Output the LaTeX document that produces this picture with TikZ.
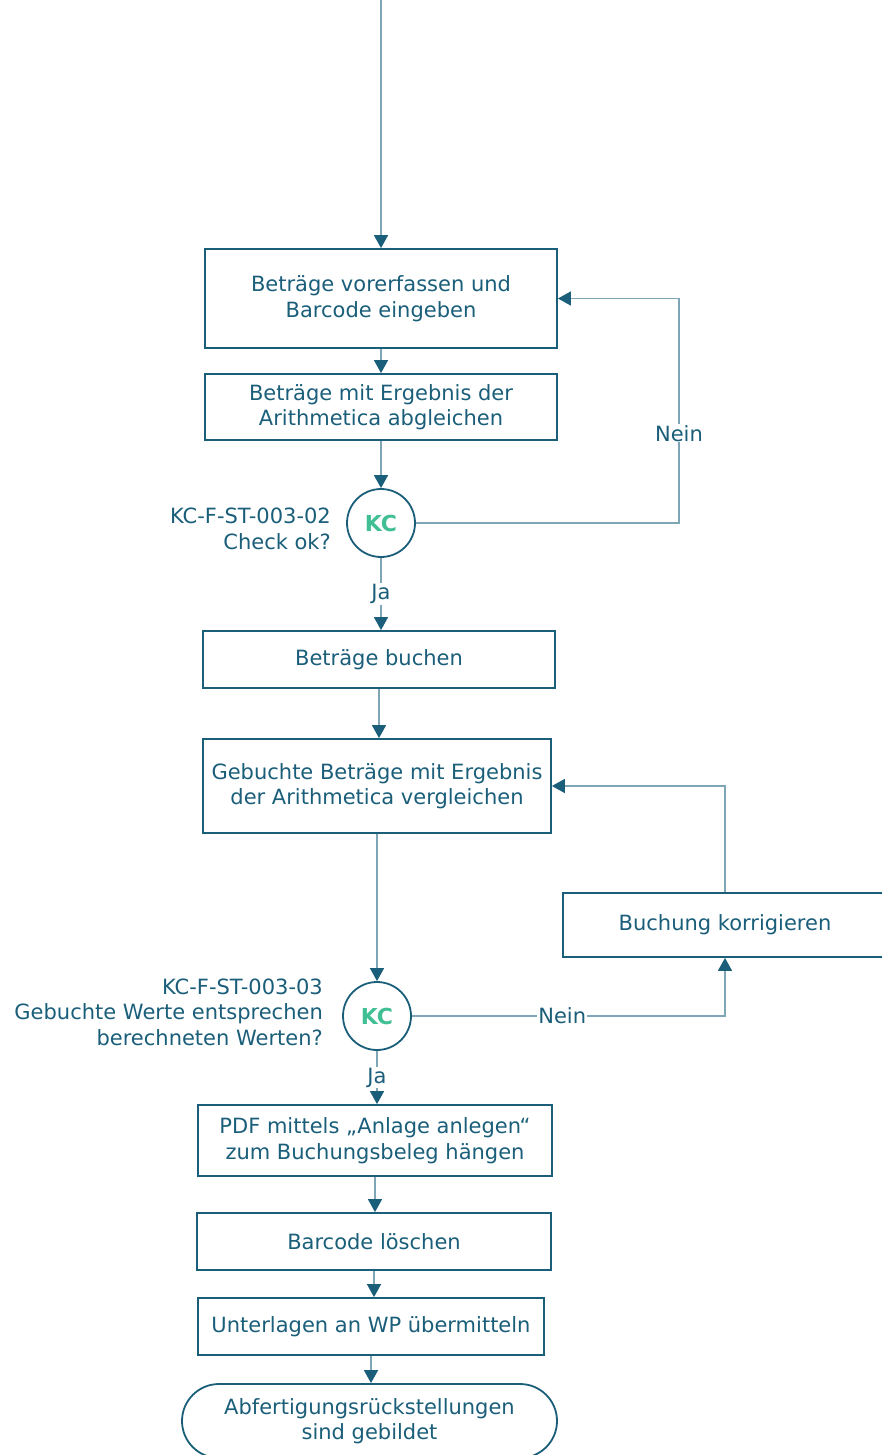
\documentclass[tikz,border=0pt]{standalone}
\usepackage{fontspec}
\setmainfont{DejaVu Sans}
\usetikzlibrary{arrows.meta}
\definecolor{ink}{HTML}{1A5E7A}
\definecolor{wire}{HTML}{7FA6B7}
\definecolor{kcgreen}{HTML}{40BF94}
\begin{document}
\begin{tikzpicture}
	[	x=1pt,y=-1pt,
	box/.style={rectangle,draw=ink,line width=1.8pt,text=ink,align=center,inner sep=0pt,font=\fontsize{21}{25.5}\selectfont},
	kc/.style={circle,draw=ink,fill=white,line width=1.8pt,minimum size=68pt,inner sep=0pt,text=kcgreen,font=\fontsize{22}{25.5}\selectfont\bfseries},
	plain/.style={draw=none,fill=none,text=ink,align=right,anchor=east,inner sep=0pt,font=\fontsize{21}{25.5}\selectfont},
	lbl/.style={fill=white,text=ink,inner sep=1pt,font=\fontsize{21}{25.5}\selectfont},
	flow/.style={draw=wire,line width=1.4pt,-{Triangle[width=14pt,length=13pt,color=ink]}}
	]
	\useasboundingbox (0,0) rectangle (882,1455);
	\coordinate (start) at (381,-2);
	\node[box,minimum width=352pt,minimum height=99pt] (vorerf) at (381,298.5){Beträge vorerfassen und\\Barcode eingeben};
	\node[box,minimum width=352pt,minimum height=66pt] (abgl) at (381,407){Beträge mit Ergebnis der\\Arithmetica abgleichen};
	\node[kc] (kc1) at (381,523){KC};
	\node[plain] (kc1txt) at (331,529){KC-F-ST-003-02\\Check ok?};
	\node[box,minimum width=352pt,minimum height=57pt] (buchen) at (379,659.5){Beträge buchen};
	\node[box,minimum width=348pt,minimum height=94pt] (vergl) at (377,786){Gebuchte Beträge mit Ergebnis\\der Arithmetica vergleichen};
	\node[box,minimum width=324pt,minimum height=64pt] (korr) at (725,925){Buchung korrigieren};
	\node[kc] (kc2) at (377,1016){KC};
	\node[plain] (kc2txt) at (323,1012){KC-F-ST-003-03\\Gebuchte Werte entsprechen\\berechneten Werten?};
	\node[box,minimum width=354pt,minimum height=71pt] (pdf) at (375,1140.5){PDF mittels „Anlage anlegen“\\zum Buchungsbeleg hängen};
	\node[box,minimum width=354pt,minimum height=57pt] (barc) at (374,1241.5){Barcode löschen};
	\node[box,minimum width=346pt,minimum height=57pt] (wp) at (371,1326.5){Unterlagen an WP übermitteln};
	\node[box,rounded corners=37pt,minimum width=375pt,minimum height=74pt] (ende) at (369.5,1421){Abfertigungsrückstellungen\\sind gebildet};
	% main flow
	\draw[flow] (start) -- (vorerf.north);
	\draw[flow] (vorerf) -- (abgl);
	\draw[flow] (abgl) -- (kc1);
	\draw[flow] (kc1.south) -- node[lbl]{Ja} (kc1.south |- buchen.north);
	\draw[flow] (buchen.south) -- (buchen.south |- vergl.north);
	\draw[flow] (vergl.south) -- (vergl.south |- kc2.north);
	\draw[flow] (kc2.south) -- node[lbl]{Ja} (kc2.south |- pdf.north);
	\draw[flow] (pdf.south) -- (pdf.south |- barc.north);
	\draw[flow] (barc.south) -- (barc.south |- wp.north);
	\draw[flow] (wp.south) -- (wp.south |- ende.north);
	% loops
	\draw[flow] (kc1.east) -- (679,523) |- node[lbl,pos=0.2]{Nein} (vorerf.east);
	\draw[flow] (kc2.east) -| node[lbl,pos=0.24]{Nein} (korr.south);
	\draw[flow] (korr.north) |- (vergl.east);
\end{tikzpicture}
\end{document}
